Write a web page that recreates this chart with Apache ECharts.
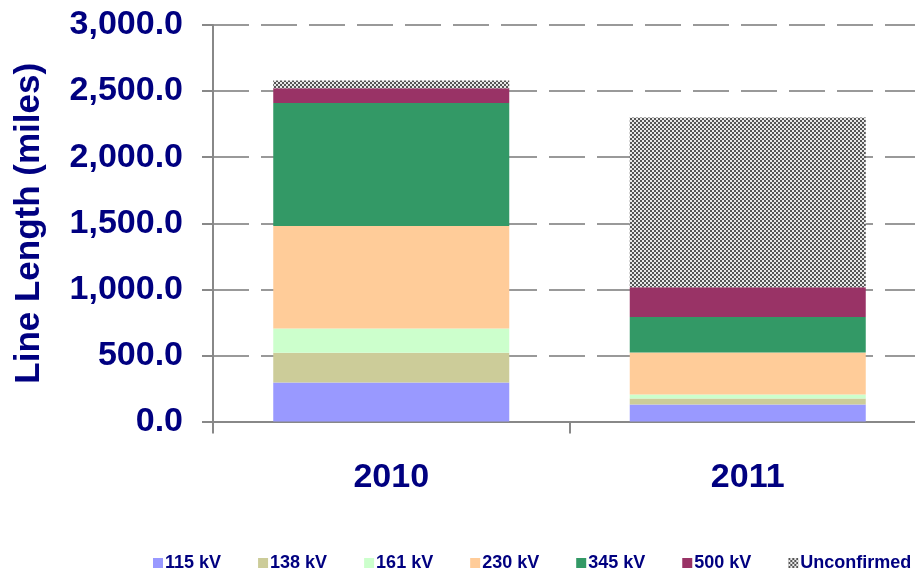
<!DOCTYPE html>
<html>
<head>
<meta charset="utf-8">
<script src="https://cdn.jsdelivr.net/npm/echarts@6/dist/echarts.min.js"></script>
<style>
html,body{margin:0;padding:0;background:#fff;overflow:hidden;width:915px;height:574px;}
#chart{width:980px;height:574px;}
</style>
</head>
<body>
<div id="chart"></div>
<script>
const categories = ['2010', '2011'];
const seriesNames = ['115 kV', '138 kV', '161 kV', '230 kV', '345 kV', '500 kV', 'Unconfirmed'];
const kv115 = [296, 130];
const kv138 = [224, 45];
const kv161 = [184, 30];
const kv230 = [776, 317];
const kv345 = [930, 269];
const kv500 = [111, 226];
const unconfirmed = [60, 1283];
const yTicks = [0, 500, 1000, 1500, 2000, 2500, 3000];

const seriesData = [kv115, kv138, kv161, kv230, kv345, kv500, unconfirmed];

// hatch pattern for Unconfirmed
const tile = document.createElement('canvas');
tile.width = 4; tile.height = 4;
const tctx = tile.getContext('2d');
tctx.fillStyle = '#e8e8e8';
tctx.fillRect(0, 0, 4, 4);
tctx.fillStyle = '#555555';
tctx.fillRect(0, 0, 2, 2);
tctx.fillRect(2, 2, 2, 2);

const colors = ['#9999FF', '#CCCC99', '#CCFFCC', '#FFCC99', '#339966', '#993366', { image: tile, repeat: 'repeat' }];

const navy = '#000080';
const font = "'Liberation Sans', Arial, sans-serif";

const chart = echarts.init(document.getElementById('chart'), null, { renderer: 'canvas' });
chart.setOption({
  animation: false,
  backgroundColor: '#ffffff',
  textStyle: { fontFamily: font },
  grid: { left: 213, top: 25, right: 54, bottom: 152.4, containLabel: false },
  legend: {
    left: 148, top: 549,
    itemWidth: 10, itemHeight: 10, itemGap: 37,
    icon: 'rect',
    textStyle: { color: navy, fontSize: 18, fontWeight: 'bold', fontFamily: font, padding: [0, 0, 0, -3] },
    data: seriesNames
  },
  xAxis: {
    type: 'category',
    data: categories,
    axisLine: { lineStyle: { color: '#888888', width: 2 } },
    axisTick: { show: true, length: 12, lineStyle: { color: '#888888', width: 2 } },
    axisLabel: { color: navy, fontSize: 34, fontWeight: 'bold', margin: 39, fontFamily: font }
  },
  yAxis: {
    type: 'value',
    min: 0, max: 3000, interval: 500,
    name: 'Line Length (miles)',
    nameLocation: 'middle',
    nameGap: 166,
    nameTextStyle: { color: navy, fontSize: 35, fontWeight: 'bold', fontFamily: font },
    axisLine: { show: true, lineStyle: { color: '#888888', width: 2 } },
    axisTick: { show: true, length: 11, lineStyle: { color: '#888888', width: 2 } },
    axisLabel: {
      color: navy, fontSize: 34, fontWeight: 'bold', margin: 30, fontFamily: font,
      formatter: v => yTicks.includes(v) ? v.toLocaleString('en-US', { minimumFractionDigits: 1, maximumFractionDigits: 1 }) : ''
    },
    splitLine: { show: true, lineStyle: { color: '#999999', width: 2, type: [36, 12] } }
  },
  series: seriesNames.map((n, i) => ({
    name: n,
    type: 'bar',
    stack: 'total',
    barWidth: 236,
    data: seriesData[i],
    itemStyle: { color: colors[i] }
  }))
});
</script>
</body>
</html>
